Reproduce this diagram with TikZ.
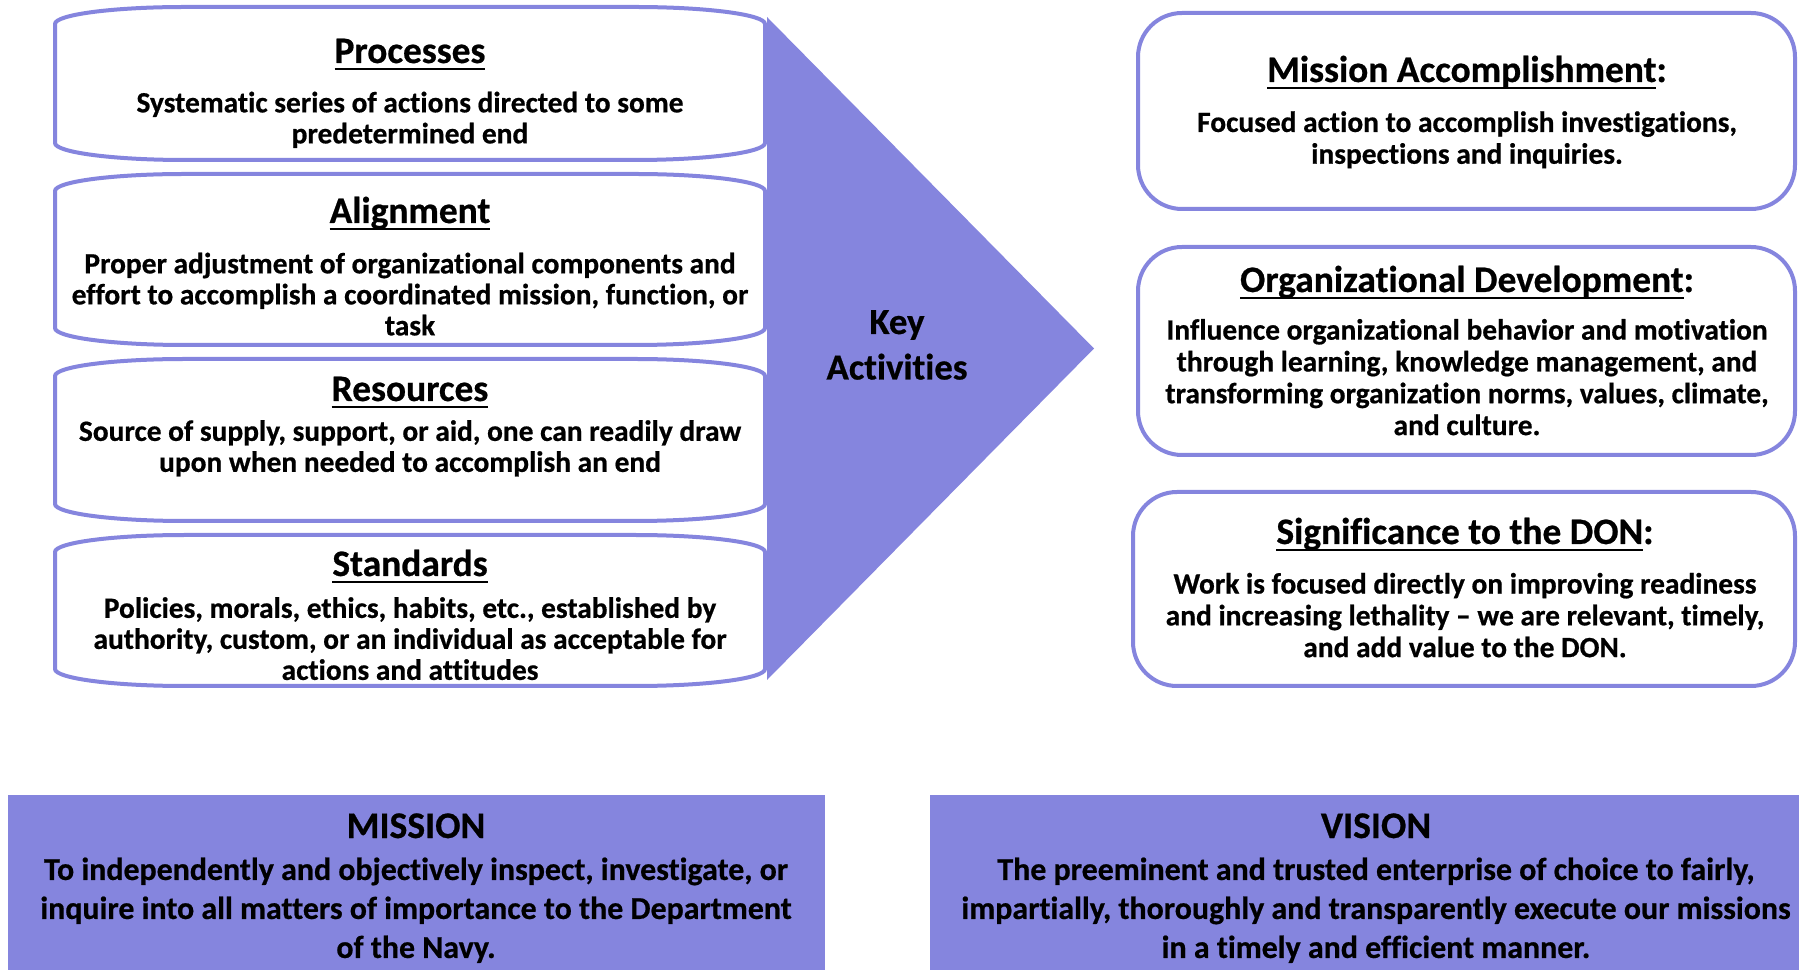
\documentclass[tikz,border=0pt]{standalone}
\usepackage{fontspec}
\setmainfont{Carlito}[Ligatures=NoCommon,BoldFeatures={FakeBold=0.6}]
\definecolor{oig}{RGB}{133,133,222}
\newsavebox\ulbox
\newcommand\myul[1]{\sbox\ulbox{#1}\rlap{\vrule width\wd\ulbox height -0.13em depth 0.2em}\usebox\ulbox}
\newcommand\xs{\vrule width0pt height0.733em depth0.267em\relax}
\newcommand\barrel[4]{%
  \draw[lbox] (#1,{#4+17}) -- (#1,{#3-17})
    arc[start angle=180,end angle=90,x radius=65pt,y radius=8.5pt] -- ({#2-130},#3)
    arc[start angle=90,end angle=0,x radius=65pt,y radius=8.5pt] -- (#2,{#4+17})
    arc[start angle=0,end angle=-90,x radius=65pt,y radius=8.5pt] -- ({#1+130},#4)
    arc[start angle=270,end angle=180,x radius=65pt,y radius=8.5pt] -- cycle;}
\begin{document}
\setlength\lineskiplimit{-100pt}%
\begin{tikzpicture}[x=0.5pt,y=0.5pt,
  lbox/.style={draw=oig,line width=2pt,fill=white},
  rbox/.style={draw=oig,line width=2pt,fill=white,rounded corners=22pt},
  ttl/.style={font=\bfseries\fontsize{18.7}{22}\selectfont,inner sep=0,anchor=base},
  lbody/.style={font=\bfseries\fontsize{14.7}{15.5}\selectfont,align=center,inner sep=0},
  rbody/.style={font=\bfseries\fontsize{14.7}{15.9}\selectfont,align=center,inner sep=0},
  bttl/.style={font=\bfseries\fontsize{18.8}{22}\selectfont,inner sep=0,anchor=base},
  bbody/.style={font=\bfseries\fontsize{15.95}{19.5}\selectfont,align=center,inner sep=0},
  keytxt/.style={font=\bfseries\fontsize{18.4}{22}\selectfont,inner sep=0,anchor=base}]
\useasboundingbox (0,0) rectangle (1799,970);
% arrow
\fill[oig] (767,953) -- (1094,621.5) -- (767,290) -- cycle;
% left boxes
\barrel{55}{765}{963}{810}
\barrel{55}{765}{796}{625}
\barrel{55}{765}{611}{449}
\barrel{55}{765}{435}{284}
% right boxes
\draw[rbox] (1138,957) rectangle (1795,761);
\draw[rbox] (1138,723) rectangle (1795,515);
\draw[rbox] (1133,478) rectangle (1795,284);
% bottom boxes
\fill[oig] (8,0) rectangle (825,175);
\fill[oig] (930,0) rectangle (1799,175);
% left texts
\node[ttl] (t1) at (410,907) {\myul{Processes}};
\node[lbody] (b1) at (410,849) {\xs Systematic series of actions directed to some\\ \xs predetermined end};
\node[ttl] (t2) at (410,747) {\myul{Alignment}};
\node[lbody] (b2) at (410,672.5) {\xs Proper adjustment of organizational components and\\ \xs effort to accomplish a coordinated mission, function, or\\ \xs task};
\node[ttl] (t3) at (410,569) {\myul{Resources}};
\node[lbody] (b3) at (410,520.5) {\xs Source of supply, support, or aid, one can readily draw\\ \xs upon when needed to accomplish an end};
\node[ttl] (t4) at (410,394) {\myul{Standards}};
\node[lbody] (b4) at (410,328) {\xs Policies, morals, ethics, habits, etc., established by\\ \xs authority, custom, or an individual as acceptable for\\ \xs actions and attitudes};
% key activities
\node[keytxt] (k1) at (897,636) {Key};
\node[keytxt] (k2) at (897,590.5) {Activities};
% right texts
\node[ttl] (r1) at (1467,888) {\myul{Mission Accomplishment}:};
\node[rbody] (rb1) at (1467,829) {\xs Focused action to accomplish investigations,\\ \xs inspections and inquiries.};
\node[ttl] (r2) at (1467,678) {\myul{Organizational Development}:};
\node[rbody] (rb2) at (1467,589.5) {\xs Influence organizational behavior and motivation\\ \xs through learning, knowledge management, and\\ \xs transforming organization norms, values, climate,\\ \xs and culture.};
\node[ttl] (r3) at (1465,426) {\myul{Significance to the DON}:};
\node[rbody] (rb3) at (1465,351.5) {\xs Work is focused directly on improving readiness\\ \xs and increasing lethality – we are relevant, timely,\\ \xs and add value to the DON.};
% bottom texts
\node[bttl] (mt) at (416,132) {MISSION};
\node[bbody] (mb) at (416,58.5) {\xs To independently and objectively inspect, investigate, or\\ \xs inquire into all matters of importance to the Department\\ \xs of the Navy.};
\node[bttl] (vt) at (1376,132) {VISION};
\node[bbody] (vb) at (1376,58.5) {\xs The preeminent and trusted enterprise of choice to fairly,\\ \xs impartially, thoroughly and transparently execute our missions\\ \xs in a timely and efficient manner.};
\end{tikzpicture}
\end{document}
